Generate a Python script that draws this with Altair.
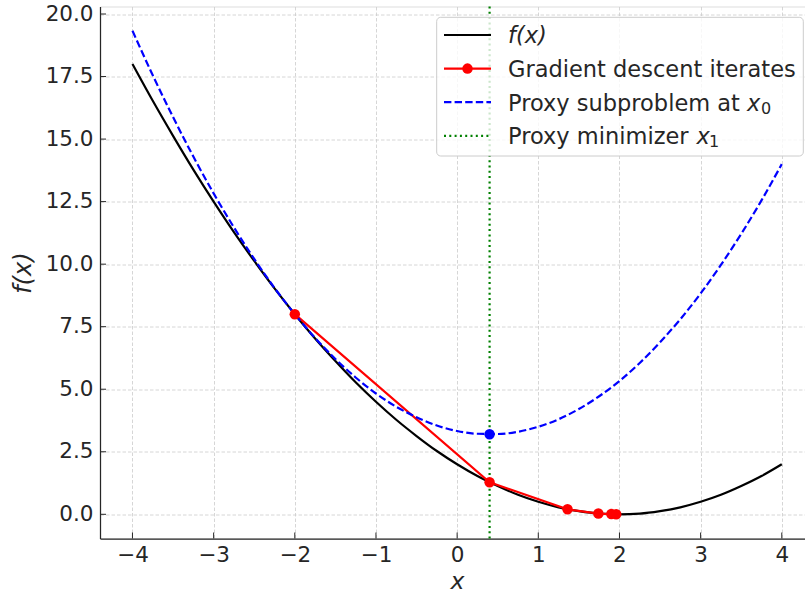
import altair as alt
import pandas as pd

# ---------------- data ----------------
curve_x = [-4.0, -3.75, -3.5, -3.25, -3.0, -2.75, -2.5, -2.25, -2.0, -1.75, -1.5,
           -1.25, -1.0, -0.75, -0.5, -0.25, 0.0, 0.25, 0.5, 0.75, 1.0, 1.25, 1.5,
           1.75, 2.0, 2.25, 2.5, 2.75, 3.0, 3.25, 3.5, 3.75, 4.0]
f_vals = [18.0, 16.53, 15.13, 13.78, 12.5, 11.28, 10.13, 9.03, 8.0, 7.03, 6.13,
          5.28, 4.5, 3.78, 3.13, 2.53, 2.0, 1.53, 1.13, 0.78, 0.5, 0.28, 0.13,
          0.03, 0.0, 0.03, 0.13, 0.28, 0.5, 0.78, 1.13, 1.53, 2.0]
proxy_vals = [19.33, 17.55, 15.88, 14.30, 12.83, 11.47, 10.21, 9.05, 8.0, 7.05, 6.21,
              5.47, 4.83, 4.30, 3.88, 3.55, 3.33, 3.22, 3.21, 3.30, 3.5, 3.80, 4.21,
              4.72, 5.33, 6.05, 6.88, 7.80, 8.83, 9.97, 11.21, 12.55, 14.0]
gd_x = [-2.0, 0.4, 1.36, 1.74, 1.9, 1.96]
gd_y = [8.0, 1.28, 0.2, 0.03, 0.01, 0.0]
minimizer_x = [0.4]
minimizer_y = [3.2]
x_ticks = [-4, -3, -2, -1, 0, 1, 2, 3, 4]
y_ticks = [0.0, 2.5, 5.0, 7.5, 10.0, 12.5, 15.0, 17.5, 20.0]
legend_labels = ["f(x)", "Gradient descent iterates", "Proxy subproblem at ", "Proxy minimizer "]

# ---------------- layout ----------------
W, H = 705, 532
FONT = "DejaVu Sans"
TXT = "#262626"
LW = 2.2
DOT = 110

xs = alt.Scale(domain=[-4.4, 4.286], nice=False, zero=False)
ys = alt.Scale(domain=[-0.967, 20.3], nice=False, zero=False)

x_axis = alt.Axis(values=x_ticks, title="x", titleFont=FONT, titleFontStyle="italic",
                  titleFontWeight="normal", titleFontSize=23.5, titleColor=TXT,
                  titleX=357, titleY=50, titleBaseline="alphabetic", titleAlign="center",
                  labelFont=FONT, labelFontSize=21.5, labelColor=TXT, labelPadding=6,
                  labelFlush=False, labelOverlap=False, ticks=False, tickSize=0,
                  grid=True, gridDash=[3.5, 2], gridColor="#cccccc", gridWidth=0.8,
                  domainColor=TXT, domainWidth=1.25)
y_axis = alt.Axis(values=y_ticks, format=".1f", title="f(x)", titleFont=FONT,
                  titleFontStyle="italic", titleFontWeight="normal", titleFontSize=24,
                  titleColor=TXT, titleX=-77, titleY=H / 2, titleAngle=-90,
                  titleBaseline="middle", titleAlign="center",
                  labelFont=FONT, labelFontSize=21.5, labelColor=TXT, labelPadding=7,
                  labelFlush=False, labelOverlap=False, ticks=False, tickSize=0,
                  grid=True, gridDash=[3.5, 2], gridColor="#cccccc", gridWidth=0.8,
                  domainColor=TXT, domainWidth=1.25)

X = alt.X("x:Q", scale=xs, axis=x_axis)
Y = alt.Y("y:Q", scale=ys, axis=y_axis)

f_df = pd.DataFrame({"x": curve_x, "y": f_vals})
q_df = pd.DataFrame({"x": curve_x, "y": proxy_vals})
gd_df = pd.DataFrame({"x": gd_x, "y": gd_y})
mn_df = pd.DataFrame({"x": minimizer_x, "y": minimizer_y})
xt_df = pd.DataFrame({"x": x_ticks})
yt_df = pd.DataFrame({"y": y_ticks})

f_line = alt.Chart(f_df).mark_line(color="black", strokeWidth=LW, interpolate="monotone").encode(x=X, y=Y)
gd_line = alt.Chart(gd_df).mark_line(color="red", strokeWidth=LW).encode(x=X, y=Y)
q_line = alt.Chart(q_df).mark_line(color="blue", strokeWidth=LW, strokeDash=[7.4, 3.2],
                                   interpolate="monotone").encode(x=X, y=Y)
vline = alt.Chart(mn_df).mark_rule(color="green", strokeWidth=LW, strokeDash=[2, 3.3]).encode(x=X)
gd_pts = alt.Chart(gd_df).mark_circle(color="red", size=DOT, opacity=1).encode(x=X, y=Y)
mn_pt = alt.Chart(mn_df).mark_circle(color="blue", size=DOT, opacity=1).encode(x=X, y=Y)

xticks = alt.Chart(xt_df).mark_rule(color=TXT, strokeWidth=1).encode(
    x=X, y=alt.value(H), y2=alt.value(H - 6))
yticks = alt.Chart(yt_df).mark_rule(color=TXT, strokeWidth=1).encode(
    y=Y, x=alt.value(0), x2=alt.value(6))

# ---------------- legend ----------------
one = pd.DataFrame({"k": [0]})
legend_layers = []
legend_layers.append(
    alt.Chart(one).mark_rect(fill="white", fillOpacity=0.8, stroke="#cccccc", strokeWidth=1,
                             cornerRadius=4).encode(
        x=alt.value(336.7), x2=alt.value(703.3), y=alt.value(10.8), y2=alt.value(149.5)))
rows = [28.5 + 33.6 * i for i in range(4)]
hx0, hx1, hmid, tx = 344, 391, 367.5, 408
styles = [
    dict(color="black", strokeDash=[1, 0]),
    dict(color="red", strokeDash=[1, 0]),
    dict(color="blue", strokeDash=[7.4, 3.2]),
    dict(color="green", strokeDash=[2, 3.3]),
]
for i, (ry, st) in enumerate(zip(rows, styles)):
    legend_layers.append(
        alt.Chart(one).mark_rule(color=st["color"], strokeWidth=LW, strokeDash=st["strokeDash"]).encode(
            x=alt.value(hx0), x2=alt.value(hx1), y=alt.value(ry)))
    legend_layers.append(
        alt.Chart(one).mark_text(align="left", baseline="alphabetic", font=FONT, fontSize=22.5,
                                 color=TXT, fontStyle="italic" if i == 0 else "normal",
                                 text=legend_labels[i]).encode(
            x=alt.value(tx), y=alt.value(ry + 8.3)))
legend_layers.append(
    alt.Chart(one).mark_circle(color="red", size=DOT, opacity=1).encode(
        x=alt.value(hmid), y=alt.value(rows[1])))
# italic x with subscripts
for (xx, sx, ry, sub) in [(647, 661, rows[2], "0"), (596.5, 609, rows[3], "1")]:
    legend_layers.append(
        alt.Chart(one).mark_text(align="left", baseline="alphabetic", font=FONT, fontSize=22.5,
                                 color=TXT, fontStyle="italic", text="x").encode(
            x=alt.value(xx), y=alt.value(ry + 8.3)))
    legend_layers.append(
        alt.Chart(one).mark_text(align="left", baseline="alphabetic", font=FONT, fontSize=16,
                                 color=TXT, text=sub).encode(
            x=alt.value(sx), y=alt.value(ry + 11.6)))

chart = alt.layer(
    f_line, gd_line, q_line, vline, gd_pts, mn_pt, xticks, yticks, *legend_layers
).properties(
    width=W, height=H, autosize="none",
    padding={"left": 100, "top": 6.5, "right": 0, "bottom": 55.5},
).configure_view(stroke=None).configure(font=FONT)

chart.save("out.html", embed_options={"renderer": "svg", "actions": False})
